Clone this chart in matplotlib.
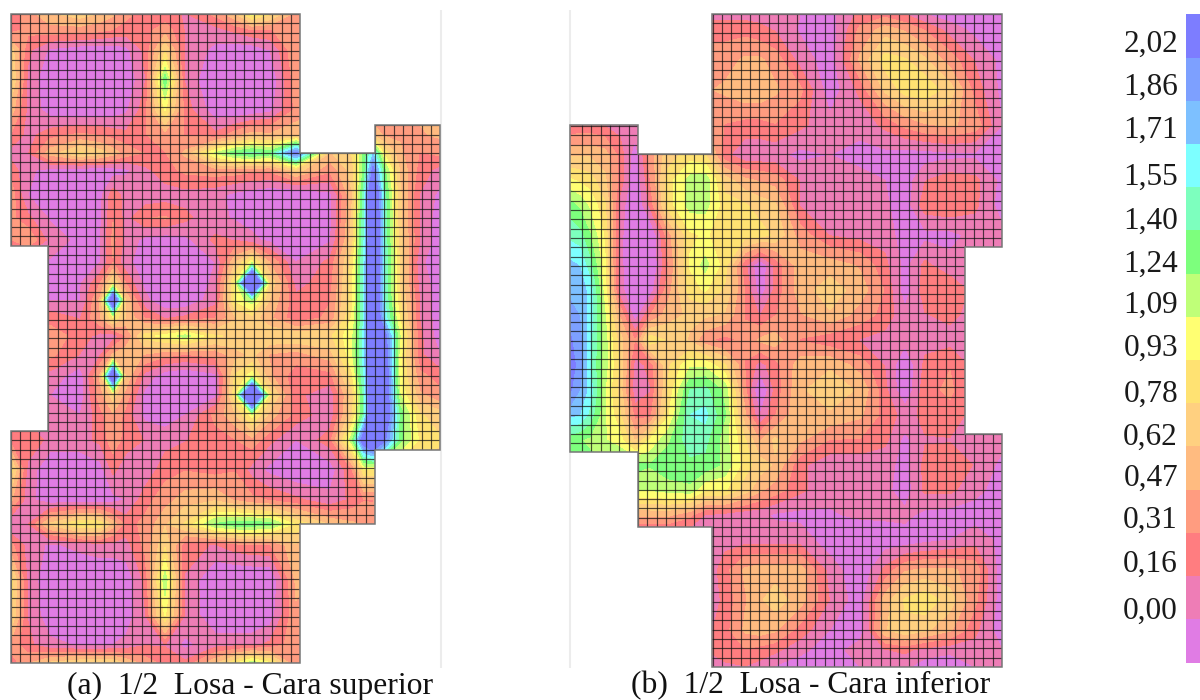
import numpy as np
import matplotlib
matplotlib.use("Agg")
import matplotlib.pyplot as plt
from matplotlib.colors import ListedColormap, BoundaryNorm
from matplotlib.patches import Polygon

# niveles de la leyenda
levels = [-1, 0.00, 0.16, 0.31, 0.47, 0.62, 0.78, 0.93, 1.09, 1.24, 1.40, 1.55, 1.71, 1.86, 2.02, 6]
band_colors = ["#E07CE4", "#EE7DB6", "#FF7D80", "#FF9C80", "#FFBB80", "#FFD080", "#FFE272",
               "#FFFF72", "#BFFF78", "#7DFF7D", "#7DFFBE", "#7DFFFF", "#7DC0FF", "#7DA0FF", "#7D7DFF"]
legend_labels = ["2,02", "1,86", "1,71", "1,55", "1,40", "1,24", "1,09", "0,93", "0,78", "0,62", "0,47", "0,31", "0,16", "0,00"]
legend_label_y = [44, 87, 130, 177, 221, 264, 305, 348, 394, 437, 478, 520, 564, 611]
legend_edges = [14, 58, 101, 144, 187, 230, 274, 317, 360, 403, 446, 490, 533, 576, 619, 663]

# Cara superior
a_x = [11, 28, 50, 80, 100, 113, 126, 145, 165, 185, 215, 235, 252, 270, 296, 330, 352, 364, 373, 384, 400, 420, 440]
a_y = [14, 30, 50, 80, 110, 135, 153, 170, 195, 218, 240, 262, 283, 300, 318, 336, 355, 376, 395, 415, 440, 470, 500, 524, 545, 580, 615, 645, 663]
a_z = [
    [.2, .4, .6, .7, .6, .5, .35, .25, .2, .15, .35, .6, 1.0, .8, .4, .4, .4, .4, .3, .35, .45, .55, .5],
    [.25, .35, .4, .4, .35, .3, .25, .25, .4, .15, .1, .2, .3, .3, .4, .4, .4, .4, .3, .35, .45, .55, .5],
    [.7, .2, -.03, -.1, -.1, -.1, -.05, .2, .75, .15, -.05, -.1, -.1, 0, .45, .4, .4, .4, .3, .35, .45, .55, .5],
    [.8, .12, -.15, -.2, -.2, -.2, -.15, .15, 1.35, .15, -.2, -.2, -.2, -.15, .4, .4, .4, .4, .3, .35, .45, .55, .5],
    [.55, .12, -.08, -.15, -.12, -.1, -.03, .25, .95, .25, -.1, -.15, -.12, -.05, .35, .5, .5, .5, .3, .35, .45, .5, .5],
    [.3, .1, .25, .35, .3, .25, .2, .3, .4, .3, .2, .4, .55, .5, .6, .7, .8, .6, .6, .45, .45, .45, .5],
    [.1, .15, .55, .8, .7, .55, .4, .3, .3, .5, 1.1, 1.35, 1.45, 1.35, 2.1, .6, .8, 1.3, 1.7, .9, .5, .3, .35],
    [.25, .03, -.05, -.1, -.1, -.08, -.03, .12, .25, .35, .4, .4, .35, .35, .7, .35, .7, 1.3, 2.1, 1.3, .6, .25, .1],
    [.4, 0, -.1, -.15, -.05, .25, .1, .05, .08, .1, .05, -.05, -.1, -.15, -.2, -.05, .6, 1.5, 2.6, 1.5, .65, .15, -.05],
    [.35, .2, -.02, -.1, -.03, .3, .1, .3, .33, .2, .05, -.02, -.08, -.12, -.2, -.05, .65, 1.55, 2.6, 1.55, .65, .15, -.1],
    [.3, .45, .1, -.05, -.02, .35, .1, -.05, -.1, -.05, .2, .15, .05, -.05, -.2, -.02, .7, 1.55, 2.6, 1.55, .7, .15, -.1],
    [-.02, -.02, -.02, -.1, 0, .3, .05, -.1, -.2, -.2, 0, .6, 1.0, .45, 0, .2, .85, 1.6, 2.6, 1.6, .75, .05, -.15],
    [-.02, -.02, -.02, -.02, .3, .8, .3, -.05, -.2, -.2, .05, .95, 3.2, .75, .1, .25, .9, 1.6, 2.6, 1.55, .75, .1, -.1],
    [0, 0, 0, 0, .5, 2.6, .6, .05, -.15, -.15, .1, .95, 1.2, .6, .2, .3, .9, 1.6, 2.6, 1.6, .8, .15, -.1],
    [.25, .25, .25, .15, .45, .9, .6, .3, .15, .2, .3, .6, .7, .5, .2, .35, .95, 1.6, 2.6, 1.7, .9, .15, -.1],
    [.4, .4, .4, .25, .1, .05, .3, .85, 1.0, 1.15, .8, .75, .7, .75, .75, .75, 1.05, 1.6, 2.6, 2.2, 1.1, .2, -.1],
    [.35, .35, .35, .15, .15, .5, .6, .45, .35, .3, .35, .55, .65, .45, .4, .55, 1.05, 1.65, 2.6, 2.3, 1.0, .2, 0],
    [.1, .1, .1, -.1, .5, 2.6, .6, .1, -.1, -.15, -.05, .8, 1.0, .5, .2, .25, .9, 1.55, 2.6, 2.4, 1.0, .35, .25],
    [0, 0, 0, -.1, .4, .7, .4, -.05, -.2, -.2, -.05, .9, 3.2, .85, .2, .05, .7, 1.45, 2.6, 2.4, 1.1, .5, .35],
    [.1, .1, .1, 0, .25, .45, .25, -.05, -.1, 0, .35, .6, 1.0, .55, .25, .05, .75, 1.45, 2.6, 2.4, 1.35, .8, .7],
    [.25, .3, .1, .1, .2, .4, .25, .15, .1, .15, .25, .3, .4, .2, 0, .25, 1.2, 2.3, 2.6, 2.1, 1.3, .9, .8],
    [.85, .1, -.15, -.15, -.08, .2, .05, .05, .25, .3, .25, .3, .1, -.05, -.15, -.1, .3, .9, .9, .7, .7, .7, .7],
    [.5, .05, -.1, -.1, -.1, -.05, 0, .25, .4, .55, .6, .45, .35, .3, .2, .05, .2, .3, .3, .4, .4, .4, .4],
    [0, .15, .65, .95, .9, .55, .25, .35, .6, .8, 1.25, 1.35, 1.35, 1.3, .9, .6, .5, .45, .4, .4, .4, .4, .4],
    [.35, .1, -.03, .05, .1, .1, .1, .35, .75, .2, .15, .25, .3, .3, .6, .4, .4, .4, .4, .4, .4, .4, .4],
    [.85, .12, -.15, -.18, -.18, -.18, -.12, .2, 1.2, .15, -.18, -.2, -.2, -.18, .5, .4, .4, .4, .4, .4, .4, .4, .4],
    [.8, .15, -.12, -.18, -.18, -.18, -.1, .15, .95, .15, -.15, -.18, -.18, -.1, .45, .4, .4, .4, .4, .4, .4, .4, .4],
    [.4, .2, .05, -.02, -.02, 0, .05, .15, .15, -.05, .1, .12, .12, .2, .4, .4, .4, .4, .4, .4, .4, .4, .4],
    [.2, .45, .65, .75, .75, .75, .6, .4, .25, .2, .6, .9, 1.2, .95, .3, .4, .4, .4, .4, .4, .4, .4, .4],
]
a_outline = [(11, 14), (300, 14), (300, 153), (375, 153), (375, 125), (440, 125), (440, 450), (375, 450),
             (375, 524), (300, 524), (300, 663), (11, 663), (11, 431), (48, 431), (48, 246), (11, 246)]

# Cara inferior
b_x = [570, 580, 590, 605, 620, 635, 650, 668, 690, 705, 725, 745, 760, 775, 800, 830, 860, 885, 905, 925, 950, 975, 1002]
b_y = [14, 30, 60, 90, 125, 155, 180, 205, 235, 265, 290, 315, 340, 365, 390, 415, 440, 465, 490, 515, 540, 570, 600, 630, 650, 667]
b_z = [
    [.2, .2, .2, .2, .2, .2, .2, .2, .2, .1, .1, .1, .1, .05, 0, -.05, .2, .25, .15, 0, -.1, -.1, -.1],
    [.2, .2, .2, .2, .2, .2, .2, .2, .2, .25, .25, .25, .2, .15, -.02, -.1, .35, .55, .45, .3, .1, -.05, -.1],
    [.2, .2, .2, .2, .2, .2, .3, .3, .3, .4, .4, .5, .5, .4, .1, -.1, .5, .85, .8, .65, .4, .15, -.05],
    [.2, .2, .2, .2, .2, .2, .4, .4, .4, .45, .5, .6, .6, .5, .35, -.1, .2, .65, .85, .9, .7, .25, -.05],
    [.15, .2, .2, .15, .1, .1, .4, .5, .5, .5, .3, .25, .25, .3, .2, .05, .05, .2, .35, .45, .5, .4, 0],
    [.6, .6, .6, .55, .25, -.1, .4, .7, .85, .8, .2, .05, .05, .05, -.05, 0, -.05, -.05, -.08, -.08, -.05, -.03, -.05],
    [.95, .9, .85, .65, .25, -.15, .3, .85, 1.15, 1.2, .7, .5, .45, .4, .15, .05, .05, 0, -.1, .15, .25, .2, -.05],
    [1.3, 1.2, 1.05, .8, .1, -.2, .2, .85, 1.15, 1.15, .85, .8, .7, .65, .15, .05, .05, .03, -.1, .25, .3, .2, -.08],
    [1.5, 1.45, 1.25, .9, .05, -.2, -.2, .4, .9, .95, .85, .85, .85, .75, .4, .15, .1, .1, -.1, -.05, -.05, .05, .05],
    [1.75, 1.7, 1.45, .95, .05, -.2, -.2, .3, .95, 1.15, .85, .2, -.15, .2, .55, .55, .45, .2, -.05, .2, .05, .1, .1],
    [1.8, 1.8, 1.65, 1.0, .05, -.15, -.1, .4, .85, .95, .75, .3, -.1, .2, .55, .7, .55, .3, -.1, .25, .3, .1, .1],
    [1.95, 1.85, 1.65, 1.1, .45, -.1, .3, .55, .65, .65, .6, .3, .15, .3, .45, .6, .4, .25, .05, .15, .2, .1, .1],
    [2.05, 1.9, 1.6, 1.15, .7, .3, .9, .75, .6, .35, .25, .35, .5, .55, .3, .2, .15, .1, .05, .1, .1, .1, .1],
    [2.1, 1.95, 1.55, 1.15, .75, .1, .2, .75, 1.05, 1.05, .8, .3, .1, .25, .55, .6, .4, .15, -.15, .2, .3, .1, .1],
    [2.05, 1.85, 1.65, 1.1, .7, .05, .15, .8, 1.4, 1.45, 1.2, .35, -.2, .2, .6, .7, .6, .2, -.15, .25, .35, .1, .1],
    [1.75, 1.7, 1.5, 1.1, .8, .25, .25, .9, 1.55, 1.6, 1.25, .5, 0, .3, .6, .6, .5, .25, .1, .2, .25, .1, .1],
    [1.3, 1.25, 1.2, 1.1, 1.0, .6, .95, 1.2, 1.5, 1.45, 1.15, .8, .45, .65, .5, .3, .3, .2, -.05, .15, .15, .1, .05],
    [1.3, 1.3, 1.3, 1.3, 1.3, 1.3, 1.25, 1.35, 1.35, 1.35, 1.2, .85, .7, .6, .2, .05, .05, .05, -.05, .2, .25, .15, -.05],
    [1.1, 1.1, 1.1, 1.1, 1.1, 1.1, 1.1, 1.15, 1.2, .95, .95, .7, .5, .4, .2, .05, .05, .05, -.1, .2, .2, .05, -.08],
    [.5, .5, .5, .5, .5, .5, .5, .5, .35, .15, .1, .05, .05, -.03, -.05, -.02, .03, .03, .05, -.05, -.08, -.08, -.1],
    [-.05, -.05, -.05, -.05, -.05, -.05, -.05, -.05, -.05, -.05, .1, .1, .1, .1, .1, -.1, -.15, -.1, -.1, -.05, 0, .1, -.05],
    [.02, .02, .02, .02, .02, .02, .02, .02, .02, .02, .25, .5, .55, .55, .55, .1, -.15, .2, .45, .5, .5, .4, -.1],
    [.03, .03, .03, .03, .03, .03, .03, .03, .03, .03, .2, .45, .6, .7, .55, .15, -.1, .55, .8, .9, .7, .35, -.1],
    [.1, .1, .1, .1, .1, .1, .1, .1, .1, .1, .25, .5, .55, .5, .25, 0, -.1, .6, .75, .65, .5, .2, -.1],
    [.15, .15, .15, .15, .15, .15, .15, .15, .15, .15, .3, .3, .25, .2, .05, -.1, .1, .15, .2, .1, .05, .1, 0],
    [.1, .1, .1, .1, .1, .1, .1, .1, .1, .1, .1, .15, .1, -.02, -.1, -.1, 0, .05, .03, -.1, -.15, 0, .05],
]
b_outline = [(712, 14), (1002, 14), (1002, 247), (965, 247), (965, 434), (1002, 434), (1002, 667), (712, 667),
             (712, 527), (638, 527), (638, 452), (570, 452), (570, 125), (638, 125), (638, 154), (712, 154)]

plt.rcParams["font.family"] = ["Liberation Serif", "DejaVu Serif"]
fig = plt.figure(figsize=(12, 7), dpi=100)
ax = fig.add_axes([0, 0, 1, 1])
ax.set_xlim(0, 1200)
ax.set_ylim(700, 0)
ax.axis("off")


def draw_panel(xs, ys, z, outline, grid_x, grid_y):
    # contornos recortados por el contorno de la losa, malla encima
    border = Polygon(outline, closed=True, facecolor="none", edgecolor="#777777", lw=1.1, zorder=4)
    ax.add_patch(border)
    cs = ax.contourf(xs, ys, np.array(z), levels=levels, colors=band_colors, zorder=1)
    cs.set_clip_path(border)
    vl = ax.vlines(grid_x, min(ys), max(ys), color="#111111", lw=0.85, alpha=0.72, zorder=2)
    hl = ax.hlines(grid_y, min(xs), max(xs), color="#111111", lw=0.85, alpha=0.72, zorder=2)
    vl.set_clip_path(border)
    hl.set_clip_path(border)


draw_panel(a_x, a_y, a_z, a_outline, 11 + 9.33 * np.arange(47), 14 + 9.27 * np.arange(71))
draw_panel(b_x, b_y, b_z, b_outline, 1002 - 9.33 * np.arange(46), 14 + 9.33 * np.arange(71))

# lineas tenues del recorte de las figuras
ax.vlines([441, 570], 10, 668, color="#ECECEC", lw=1.5, zorder=0)

# leyenda
cmap = ListedColormap(band_colors)
norm = BoundaryNorm(np.arange(16), 15)
ax.pcolormesh([1186, 1200], legend_edges, np.arange(14, -1, -1)[:, None], cmap=cmap, norm=norm, zorder=1)
for lab, y in zip(legend_labels, legend_label_y):
    ax.text(1178, y, lab, ha="right", va="center", fontsize=22.5, color="#1A1A1A")

ax.text(250, 686, "(a)  1/2  Losa - Cara superior", ha="center", va="center", fontsize=22.8, color="#111111")
ax.text(811, 686, "(b)  1/2  Losa - Cara inferior", ha="center", va="center", fontsize=22.8, color="#111111")

fig.savefig("out.png", dpi=100)
